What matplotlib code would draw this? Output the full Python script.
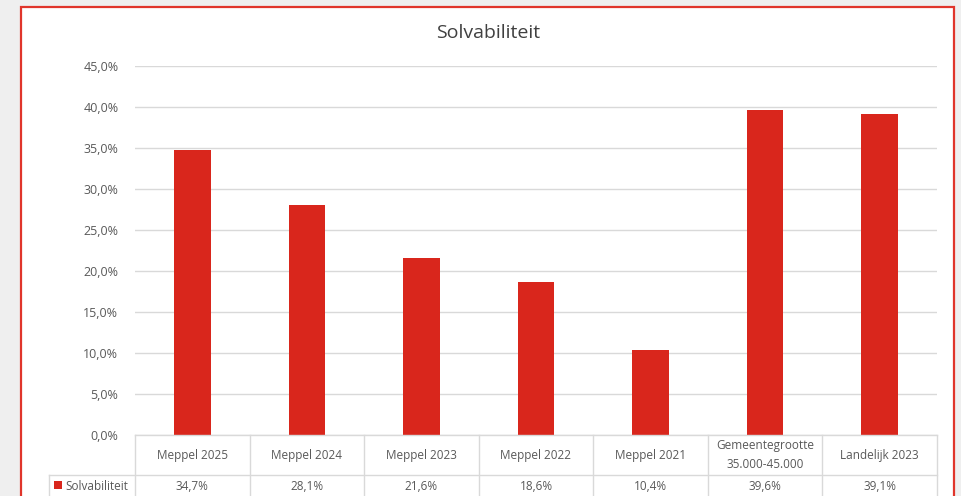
import matplotlib
matplotlib.use("Agg")
import matplotlib.pyplot as plt
from matplotlib.transforms import blended_transform_factory
from matplotlib.patches import Rectangle
from matplotlib.lines import Line2D

categories = ["Meppel 2025", "Meppel 2024", "Meppel 2023", "Meppel 2022", "Meppel 2021",
              "Gemeentegrootte\n35.000-45.000", "Landelijk 2023"]
values = [34.7, 28.1, 21.6, 18.6, 10.4, 39.6, 39.1]
series_name = "Solvabiliteit"
yticks = [0, 5, 10, 15, 20, 25, 30, 35, 40, 45]

plt.rcParams['font.family'] = ['Open Sans', 'DejaVu Sans']
W, H = 961, 496
fig = plt.figure(figsize=(W/100, H/100), dpi=100)
fig.patch.set_facecolor('#efefef')

def fx(px): return px / W
def fy(py): return 1 - py / H

# white chart area with red border
fig.patches.append(Rectangle((fx(21), fy(530)), fx(954) - fx(21), fy(7) - fy(530),
                             transform=fig.transFigure, facecolor='white',
                             edgecolor='#e0352b', linewidth=1.6, zorder=-10))

ax = fig.add_axes([fx(135), fy(435), fx(937) - fx(135), fy(66) - fy(435)])
ax.set_zorder(1)
ax.patch.set_alpha(0)
bar_color = '#d9261c'
x = list(range(len(categories)))
ax.bar(x, values, width=0.32, color=bar_color, zorder=3)
ax.set_xlim(-0.5, len(categories) - 0.5)
ax.set_ylim(0, 45)
ax.set_yticks(yticks)
ax.set_yticklabels([f"{v:.1f}%".replace('.', ',') for v in yticks], color='#595959', fontsize=9)
ax.yaxis.grid(True, color='#d9d9d9', linewidth=1, zorder=0)
ax.tick_params(axis='y', length=0, pad=12)
ax.set_xticks([])
for s in ax.spines.values():
    s.set_visible(False)

fig.text(fx(488), fy(33), "Solvabiliteit", ha='center', va='center', fontsize=14, color='#404040')

tr = blended_transform_factory(ax.transData, fig.transFigure)
line_c = '#d9d9d9'
n = len(categories)
# table lines
for k in range(n + 1):
    xb = k - 0.5
    fig.lines.append(Line2D([xb, xb], [fy(435), fy(500)], transform=tr, color=line_c, lw=1))
fig.lines.append(Line2D([-0.5, n - 0.5], [fy(435), fy(435)], transform=tr, color=line_c, lw=1))
fig.lines.append(Line2D([fx(49), fx(937)], [fy(475), fy(475)], transform=fig.transFigure, color=line_c, lw=1))
fig.lines.append(Line2D([fx(49), fx(49)], [fy(475), fy(500)], transform=fig.transFigure, color=line_c, lw=1))

for i, (c, v) in enumerate(zip(categories, values)):
    fig.text(i, fy(455), c, transform=tr, ha='center', va='center', fontsize=8.5,
             color='#595959', linespacing=1.5)
    fig.text(i, fy(486), f"{v:.1f}%".replace('.', ','), transform=tr, ha='center', va='center',
             fontsize=8.5, color='#595959')

fig.patches.append(Rectangle((fx(54), fy(489)), fx(8), fy(481) - fy(489),
                             transform=fig.transFigure, facecolor=bar_color, edgecolor='none'))
fig.text(fx(65), fy(486), series_name, ha='left', va='center', fontsize=8.5, color='#595959')

fig.savefig("out.png", dpi=100, facecolor=fig.get_facecolor())
